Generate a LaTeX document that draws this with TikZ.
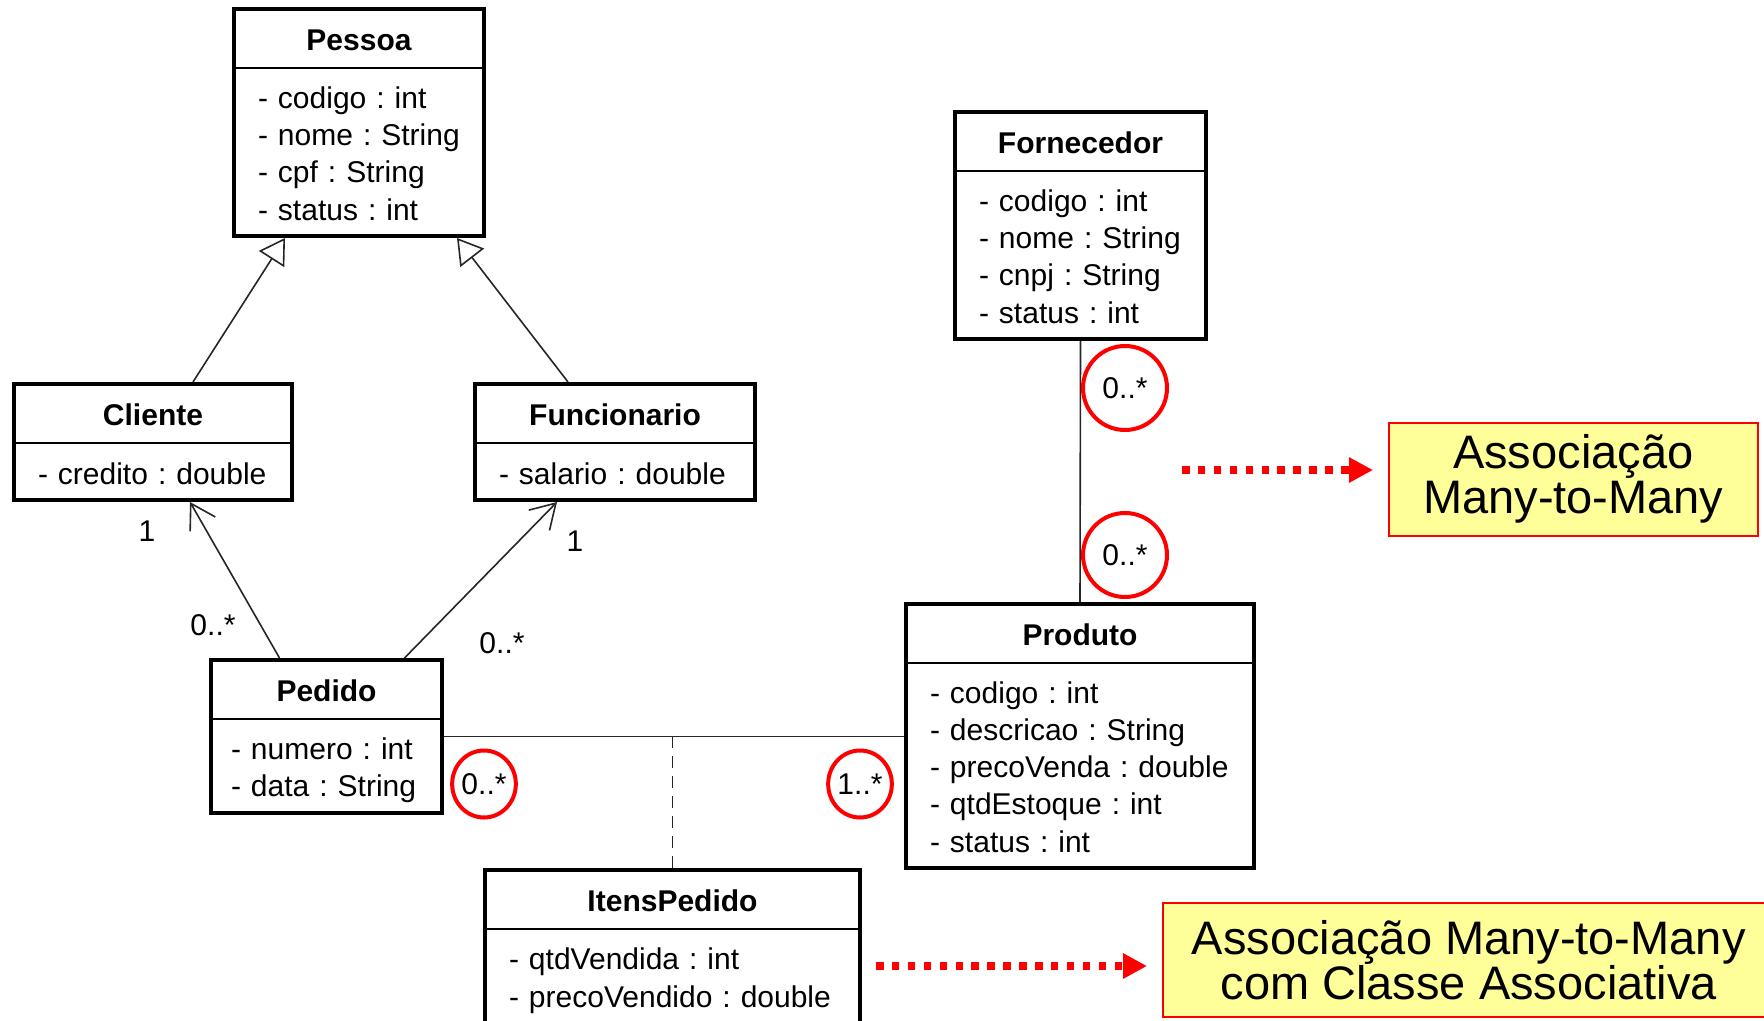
\documentclass[tikz,border=0pt]{standalone}
\usepackage{fontspec}
\setmainfont{Liberation Sans}
\usetikzlibrary{positioning,fit,shapes.geometric,arrows.meta}

\definecolor{notefill}{HTML}{FFFF99}
\newcommand{\umlfont}{\fontsize{30pt}{37pt}\selectfont}
\newcommand{\notefont}{\fontsize{47pt}{45pt}\selectfont}
\newcommand{\attrstrut}{\rule[-6pt]{0pt}{37pt}}
\frenchspacing

\tikzset{
  classname/.style={draw, line width=1.6pt, outer sep=0pt, inner sep=0pt, minimum height=59pt,
    text height=23pt, text depth=0pt, font=\umlfont\bfseries},
  attrs/.style={draw, line width=1.6pt, outer sep=0pt, inner xsep=24pt, inner ysep=0pt,
    align=left, font=\umlfont, execute at begin node=\attrstrut, execute at end node=\attrstrut},
  frame/.style={draw, line width=4pt, inner sep=0pt},
  assoc/.style={draw=black!85, line width=1.6pt},
  inherit/.style={assoc, -{Triangle[open, length=25pt, width=30pt]}},
  navig/.style={assoc, -{Straight Barb[length=24pt, width=29pt]}},
  mult/.style={font=\umlfont, inner sep=0pt},
  ring/.style={mult, draw=red, line width=4pt, ellipse},
  note/.style={draw=red, line width=1.5pt, fill=notefill, font=\notefont, align=center,
    inner sep=0pt, anchor=north west},
  hint/.style={red, line width=8pt, dash pattern=on 7.5pt off 8.4pt, shorten >=15pt,
    -{Triangle[length=24pt, width=24pt]}}
}

\begin{document}
\begin{tikzpicture}[x=1pt, y=-1pt]
  \path[use as bounding box, fill=white] (0,0) rectangle (1764,1020);

  %Define classes
  \node[classname, minimum width=250pt, anchor=north west] (pessoa-n) at (234,9) {Pessoa};
  \node[attrs, text width=202pt, minimum height=168pt, below=0pt of pessoa-n] (pessoa-a)
    {- codigo : int\\- nome : String\\- cpf : String\\- status : int};
  \node[frame, fit=(pessoa-n)(pessoa-a)] (pessoa) {};

  \node[classname, minimum width=278pt, anchor=north west] (cliente-n) at (14,384) {Cliente};
  \node[attrs, text width=230pt, minimum height=57pt, below=0pt of cliente-n] (cliente-a)
    {- credito : double};
  \node[frame, fit=(cliente-n)(cliente-a)] (cliente) {};

  \node[classname, minimum width=280pt, anchor=north west] (funcionario-n) at (475,384) {Funcionario};
  \node[attrs, text width=232pt, minimum height=57pt, below=0pt of funcionario-n] (funcionario-a)
    {- salario : double};
  \node[frame, fit=(funcionario-n)(funcionario-a)] (funcionario) {};

  \node[classname, minimum width=231pt, anchor=north west] (pedido-n) at (211,660) {Pedido};
  \node[attrs, inner xsep=20pt, text width=191pt, minimum height=94pt, below=0pt of pedido-n] (pedido-a)
    {- numero : int\\- data : String};
  \node[frame, fit=(pedido-n)(pedido-a)] (pedido) {};

  \node[classname, minimum width=251pt, anchor=north west] (fornecedor-n) at (955,112) {Fornecedor};
  \node[attrs, text width=203pt, minimum height=168pt, below=0pt of fornecedor-n] (fornecedor-a)
    {- codigo : int\\- nome : String\\- cnpj : String\\- status : int};
  \node[frame, fit=(fornecedor-n)(fornecedor-a)] (fornecedor) {};

  \node[classname, minimum width=348pt, anchor=north west] (produto-n) at (906,604) {Produto};
  \node[attrs, text width=300pt, minimum height=205pt, below=0pt of produto-n] (produto-a)
    {- codigo : int\\- descricao : String\\- precoVenda : double\\- qtdEstoque : int\\- status : int};
  \node[frame, fit=(produto-n)(produto-a)] (produto) {};

  \node[classname, minimum width=375pt, anchor=north west] (itens-n) at (485,870) {ItensPedido};
  \node[attrs, text width=327pt, minimum height=94pt, below=0pt of itens-n] (itens-a)
    {- qtdVendida : int\\- precoVendido : double};
  \node[frame, fit=(itens-n)(itens-a)] (itens) {};

  % Connect the classes
  \draw[inherit] ([xshift=40pt]cliente.north) -- ([xshift=-74pt]pessoa.south);
  \draw[inherit] ([xshift=-47pt]funcionario.north) -- ([xshift=98pt]pessoa.south);
  \draw[navig] ([xshift=-47pt]pedido.north) -- ([xshift=37pt]cliente.south);
  \draw[navig] ([xshift=78pt]pedido.north) -- ([xshift=-58pt]funcionario.south);
  \draw[assoc] (pedido.east) -- (pedido.east -| produto.west);
  \draw[assoc] (fornecedor.south) -- (produto.north);
  \draw[assoc, dash pattern=on 12pt off 8pt] (itens.north) -- (itens.north |- pedido.east);

  % Multiplicities
  \node[mult] (cliente-one) at (147,531) {1};
  \node[mult] (cliente-many) at (213,625) {0..*};
  \node[mult] (funcionario-one) at (575,541) {1};
  \node[mult] (funcionario-many) at (502,643) {0..*};
  \node[ring, minimum width=63pt, minimum height=67pt] (pedido-many) at (484,784) {0..*};
  \node[ring, minimum width=63pt, minimum height=67pt] (produto-one) at (860,784) {1..*};
  \node[ring, minimum size=84pt] (fornecedor-many) at (1125,388) {0..*};
  \node[ring, minimum size=84pt] (produto-many) at (1125,555) {0..*};

  % Notes
  \node[note, minimum width=369pt, minimum height=113pt] (mm) at (1388,422)
    {Associação\\Many-to-Many};
  \node[note, minimum width=612pt, minimum height=114pt] (mmc) at (1162,902)
    {Associação Many-to-Many\\com Classe Associativa};
  \coordinate (mm-from) at (1182,470);
  \coordinate (mmc-from) at (876,966);
  \draw[hint] (mm-from) -- (mm-from -| mm.west);
  \draw[hint] (mmc-from) -- (mmc-from -| mmc.west);
\end{tikzpicture}
\end{document}
